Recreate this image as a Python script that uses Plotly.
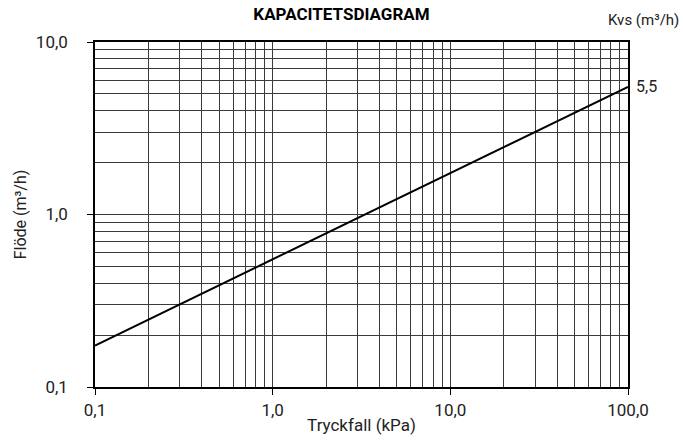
import plotly.graph_objects as go

# Capacity curve for the valve, Kvs 5.5 m³/h
pressure_drop_kpa = [0.1, 100.0]
flow_m3h = [0.174, 5.5]
kvs_label = "5,5"

x_tick_vals = [0.1, 1, 10, 100]
x_tick_text = ["0,1", "1,0", "10,0", "100,0"]
y_tick_vals = [0.1, 1, 10]
y_tick_text = ["0,1", "1,0", "10,0"]

x_minor = [m * d for d in (0.1, 1, 10) for m in range(2, 10)]
y_minor = [m * d for d in (0.1, 1) for m in range(2, 10)]

FONT = "Roboto"
TEXT = "#222"
GRID = "#3a3a3a"

fig = go.Figure()
fig.add_trace(go.Scatter(
    x=pressure_drop_kpa, y=flow_m3h, mode="lines",
    line=dict(color="black", width=2), showlegend=False, hoverinfo="skip",
))

axis_common = dict(
    type="log", showline=True, linecolor="black", linewidth=1.5, mirror=True,
    showgrid=True, gridcolor=GRID, gridwidth=1,
    ticks="outside", ticklen=6, tickcolor="black", tickwidth=1,
    tickfont=dict(family=FONT, size=17, color=TEXT),
    zeroline=False, automargin=False,
)

fig.update_xaxes(
    **axis_common, range=[-1, 2], tickvals=x_tick_vals, ticktext=x_tick_text,
    ticklabelstandoff=1,
    minor=dict(tickvals=x_minor, showgrid=True, gridcolor=GRID, gridwidth=1, ticks=""),
    title=dict(text="Tryckfall (kPa)", font=dict(family=FONT, size=17, color=TEXT), standoff=0),
)
fig.update_yaxes(
    **axis_common, range=[-1, 1], tickvals=y_tick_vals, ticktext=y_tick_text,
    ticklabelstandoff=16,
    minor=dict(tickvals=y_minor, showgrid=True, gridcolor=GRID, gridwidth=1, ticks=""),
    title=dict(text="Flöde (m³/h)", font=dict(family=FONT, size=16, color=TEXT), standoff=5),
)

fig.add_annotation(
    x=2, y=0.74, xref="x", yref="y", text=kvs_label, showarrow=False,
    xanchor="left", xshift=6, font=dict(family=FONT, size=16, color=TEXT),
)
fig.add_annotation(
    x=1.1, y=1.064, xref="paper", yref="paper", text="Kvs (m³/h)", showarrow=False,
    xanchor="right", yanchor="middle", font=dict(family=FONT, size=15, color=TEXT),
)

fig.update_layout(
    width=683, height=443,
    margin=dict(l=95, r=55, t=42, b=56),
    paper_bgcolor="white", plot_bgcolor="white",
    title=dict(text="<b>KAPACITETSDIAGRAM</b>", x=0.5, xanchor="center",
               y=0.982, yanchor="top", yref="container",
               font=dict(family=FONT, size=17, color="black")),
)

fig.write_html("out.html")
